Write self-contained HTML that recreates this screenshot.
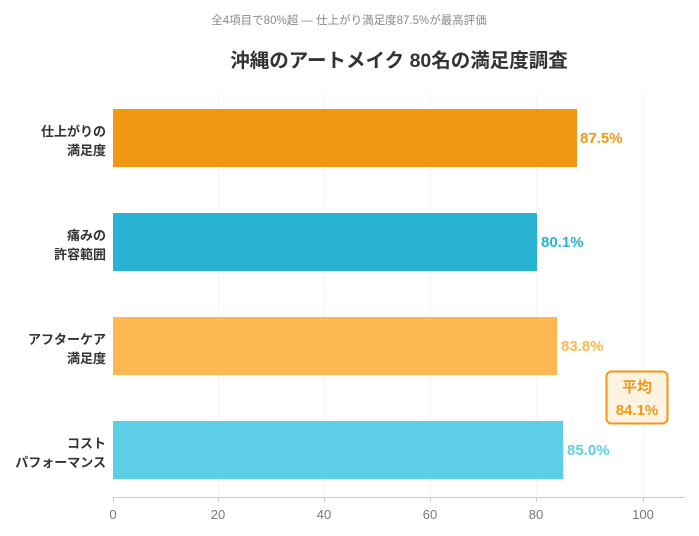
<!DOCTYPE html><html><head><meta charset="utf-8"><style>body{margin:0;background:#fff}svg{display:block}text{font-family:"Liberation Sans","Noto Sans CJK JP",sans-serif}</style></head><body>
<svg width="699" height="536" viewBox="0 0 699 536">
<text x="349" y="24" text-anchor="middle" font-size="11.5" fill="#8a8a8a">全4項目で80%超 ― 仕上がり満足度87.5%が最高評価</text>
<text x="399" y="67" text-anchor="middle" font-size="19.5" font-weight="bold" fill="#333">沖縄のアートメイク 80名の満足度調査</text>
<g stroke="#f5f5f5" stroke-width="1">
<line x1="218.5" y1="92" x2="218.5" y2="497"/><line x1="324.5" y1="92" x2="324.5" y2="497"/><line x1="430.5" y1="92" x2="430.5" y2="497"/><line x1="536.5" y1="92" x2="536.5" y2="497"/><line x1="643.5" y1="92" x2="643.5" y2="497"/></g>
<rect x="113" y="109" width="464" height="58" fill="#f09812"/>
<rect x="113" y="213" width="424" height="58" fill="#29b3d3"/>
<rect x="113" y="317" width="444" height="58" fill="#fdb852"/>
<rect x="113" y="421" width="450" height="58" fill="#5ccfe6"/>
<g font-size="15" font-weight="bold">
<text x="580" y="143" fill="#f09812">87.5%</text>
<text x="541" y="247" fill="#29b3d3">80.1%</text>
<text x="561" y="351" fill="#fdb852">83.8%</text>
<text x="567" y="455" fill="#5ccfe6">85.0%</text></g>
<g font-size="13" font-weight="bold" fill="#333" text-anchor="end">
<text x="106" y="136">仕上がりの</text><text x="106" y="155">満足度</text>
<text x="106" y="240">痛みの</text><text x="106" y="259">許容範囲</text>
<text x="106" y="344">アフターケア</text><text x="106" y="363">満足度</text>
<text x="106" y="448">コスト</text><text x="106" y="467">パフォーマンス</text></g>
<line x1="113" y1="497.5" x2="685" y2="497.5" stroke="#ccc"/>
<g stroke="#ccc"><line x1="113.5" y1="497" x2="113.5" y2="502"/><line x1="218.5" y1="497" x2="218.5" y2="502"/><line x1="324.5" y1="497" x2="324.5" y2="502"/><line x1="430.5" y1="497" x2="430.5" y2="502"/><line x1="536.5" y1="497" x2="536.5" y2="502"/><line x1="643.5" y1="497" x2="643.5" y2="502"/></g>
<g font-size="13" fill="#777" text-anchor="middle">
<text x="113" y="519">0</text><text x="218" y="519">20</text><text x="324" y="519">40</text><text x="430" y="519">60</text><text x="536" y="519">80</text><text x="643" y="519">100</text></g>
<rect x="606.5" y="371.5" width="61" height="52" rx="5" fill="#fdf3e3" stroke="#f09812" stroke-width="2"/>
<g font-size="15" font-weight="bold" fill="#f09812" text-anchor="middle"><text x="637" y="392">平均</text><text x="637" y="415">84.1%</text></g>
</svg></body></html>
